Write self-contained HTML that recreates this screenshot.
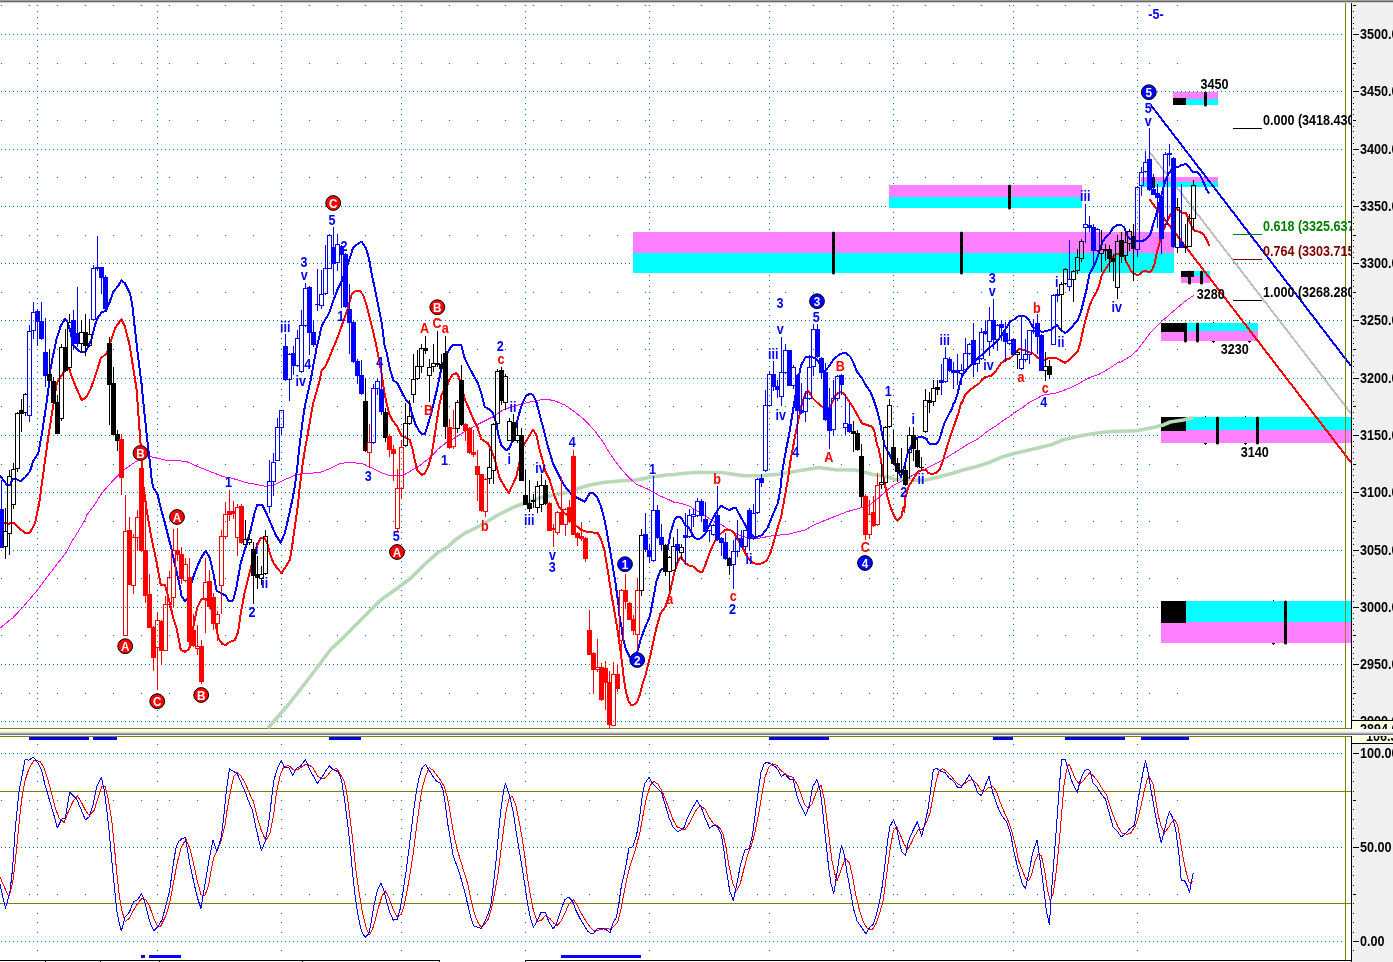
<!DOCTYPE html>
<html><head><meta charset="utf-8"><title>Chart</title>
<style>
html,body{margin:0;padding:0;background:#fff;}
body{width:1393px;height:962px;overflow:hidden;font-family:"Liberation Sans",sans-serif;}
svg{display:block;}
svg text{font-family:"Liberation Sans",sans-serif;font-weight:bold;}
</style></head><body>
<svg width="1393" height="962" viewBox="0 0 1393 962" shape-rendering="crispEdges">
<rect x="0" y="0" width="1393" height="962" fill="#fff"/>
<defs><path id="vd" d="M0 5h1v1h-1zM0 11h1v1h-1zM0 17h1v1h-1zM0 23h1v1h-1zM0 28h1v1h-1zM0 34h1v1h-1zM0 40h1v1h-1zM0 46h1v1h-1zM0 51h1v1h-1zM0 57h1v1h-1zM0 63h1v1h-1zM0 68h1v1h-1zM0 74h1v1h-1zM0 80h1v1h-1zM0 86h1v1h-1zM0 91h1v1h-1zM0 97h1v1h-1zM0 103h1v1h-1zM0 109h1v1h-1zM0 114h1v1h-1zM0 120h1v1h-1zM0 126h1v1h-1zM0 131h1v1h-1zM0 137h1v1h-1zM0 143h1v1h-1zM0 149h1v1h-1zM0 154h1v1h-1zM0 160h1v1h-1zM0 166h1v1h-1zM0 172h1v1h-1zM0 177h1v1h-1zM0 183h1v1h-1zM0 189h1v1h-1zM0 194h1v1h-1zM0 200h1v1h-1zM0 206h1v1h-1zM0 212h1v1h-1zM0 217h1v1h-1zM0 223h1v1h-1zM0 229h1v1h-1zM0 235h1v1h-1zM0 240h1v1h-1zM0 246h1v1h-1zM0 252h1v1h-1zM0 257h1v1h-1zM0 263h1v1h-1zM0 269h1v1h-1zM0 275h1v1h-1zM0 280h1v1h-1zM0 286h1v1h-1zM0 292h1v1h-1zM0 298h1v1h-1zM0 303h1v1h-1zM0 309h1v1h-1zM0 315h1v1h-1zM0 320h1v1h-1zM0 326h1v1h-1zM0 332h1v1h-1zM0 338h1v1h-1zM0 343h1v1h-1zM0 349h1v1h-1zM0 355h1v1h-1zM0 361h1v1h-1zM0 366h1v1h-1zM0 372h1v1h-1zM0 378h1v1h-1zM0 383h1v1h-1zM0 389h1v1h-1zM0 395h1v1h-1zM0 401h1v1h-1zM0 406h1v1h-1zM0 412h1v1h-1zM0 418h1v1h-1zM0 424h1v1h-1zM0 429h1v1h-1zM0 435h1v1h-1zM0 441h1v1h-1zM0 446h1v1h-1zM0 452h1v1h-1zM0 458h1v1h-1zM0 464h1v1h-1zM0 469h1v1h-1zM0 475h1v1h-1zM0 481h1v1h-1zM0 487h1v1h-1zM0 492h1v1h-1zM0 498h1v1h-1zM0 504h1v1h-1zM0 509h1v1h-1zM0 515h1v1h-1zM0 521h1v1h-1zM0 527h1v1h-1zM0 532h1v1h-1zM0 538h1v1h-1zM0 544h1v1h-1zM0 550h1v1h-1zM0 555h1v1h-1zM0 561h1v1h-1zM0 567h1v1h-1zM0 572h1v1h-1zM0 578h1v1h-1zM0 584h1v1h-1zM0 590h1v1h-1zM0 595h1v1h-1zM0 601h1v1h-1zM0 607h1v1h-1zM0 613h1v1h-1zM0 618h1v1h-1zM0 624h1v1h-1zM0 630h1v1h-1zM0 635h1v1h-1zM0 641h1v1h-1zM0 647h1v1h-1zM0 653h1v1h-1zM0 658h1v1h-1zM0 664h1v1h-1zM0 670h1v1h-1zM0 676h1v1h-1zM0 681h1v1h-1zM0 687h1v1h-1zM0 693h1v1h-1zM0 698h1v1h-1zM0 704h1v1h-1zM0 710h1v1h-1zM0 716h1v1h-1zM0 721h1v1h-1zM0 744h1v1h-1zM0 753h1v1h-1zM0 762h1v1h-1zM0 772h1v1h-1zM0 781h1v1h-1zM0 791h1v1h-1zM0 800h1v1h-1zM0 809h1v1h-1zM0 819h1v1h-1zM0 828h1v1h-1zM0 838h1v1h-1zM0 847h1v1h-1zM0 856h1v1h-1zM0 866h1v1h-1zM0 875h1v1h-1zM0 885h1v1h-1zM0 894h1v1h-1zM0 903h1v1h-1zM0 913h1v1h-1zM0 922h1v1h-1zM0 932h1v1h-1zM0 941h1v1h-1zM0 950h1v1h-1z" fill="#008080"/></defs>
<g stroke="#008080" stroke-width="1" fill="none"><path d="M1 721.5H1345" stroke-dasharray="1 3"/><path d="M1 664.5H1345" stroke-dasharray="1 3"/><path d="M1 607.5H1345" stroke-dasharray="1 3"/><path d="M1 550.5H1345" stroke-dasharray="1 3"/><path d="M1 492.5H1345" stroke-dasharray="1 3"/><path d="M1 435.5H1345" stroke-dasharray="1 3"/><path d="M1 378.5H1345" stroke-dasharray="1 3"/><path d="M1 320.5H1345" stroke-dasharray="1 3"/><path d="M1 263.5H1345" stroke-dasharray="1 3"/><path d="M1 206.5H1345" stroke-dasharray="1 3"/><path d="M1 149.5H1345" stroke-dasharray="1 3"/><path d="M1 91.5H1345" stroke-dasharray="1 3"/><path d="M1 34.5H1345" stroke-dasharray="1 3"/><path d="M1 693.5H1180" stroke-dasharray="1 27"/><path d="M1 635.5H1180" stroke-dasharray="1 27"/><path d="M1 578.5H1180" stroke-dasharray="1 27"/><path d="M1 521.5H1180" stroke-dasharray="1 27"/><path d="M1 464.5H1180" stroke-dasharray="1 27"/><path d="M1 406.5H1180" stroke-dasharray="1 27"/><path d="M1 349.5H1180" stroke-dasharray="1 27"/><path d="M1 292.5H1180" stroke-dasharray="1 27"/><path d="M1 235.5H1180" stroke-dasharray="1 27"/><path d="M1 177.5H1180" stroke-dasharray="1 27"/><path d="M1 120.5H1180" stroke-dasharray="1 27"/><path d="M1 63.5H1180" stroke-dasharray="1 27"/><path d="M1 5.5H1180" stroke-dasharray="1 27"/><path d="M1 941.5H1345" stroke-dasharray="1 3"/><path d="M1 847.5H1345" stroke-dasharray="1 3"/><path d="M1 753.5H1345" stroke-dasharray="1 3"/><path d="M1 894.5H1180" stroke-dasharray="1 27"/><path d="M1 800.5H1180" stroke-dasharray="1 27"/><use href="#vd" x="37" y="0" stroke="none"/><use href="#vd" x="157" y="0" stroke="none"/><use href="#vd" x="281" y="0" stroke="none"/><use href="#vd" x="401" y="0" stroke="none"/><use href="#vd" x="525" y="0" stroke="none"/><use href="#vd" x="649" y="0" stroke="none"/><use href="#vd" x="769" y="0" stroke="none"/><use href="#vd" x="893" y="0" stroke="none"/><use href="#vd" x="1013" y="0" stroke="none"/><use href="#vd" x="1137" y="0" stroke="none"/></g>
<g fill="#808000"><rect x="1345" y="3" width="1" height="957"/><rect x="0" y="728" width="1351" height="1"/><rect x="0" y="736" width="1351" height="1"/><rect x="0" y="791" width="1351" height="1"/><rect x="0" y="903" width="1351" height="1"/></g>
<rect x="889" y="185" width="193" height="12" fill="#ff80ff"/><rect x="889" y="197" width="193" height="11" fill="#00ffff"/><rect x="633" y="232" width="541" height="21" fill="#ff80ff"/><rect x="633" y="253" width="541" height="20" fill="#00ffff"/><rect x="1173" y="92" width="45" height="7" fill="#ff80ff"/><rect x="1173" y="99" width="45" height="6" fill="#00ffff"/><rect x="1141" y="177" width="77" height="5" fill="#ff80ff"/><rect x="1141" y="182" width="77" height="5" fill="#00ffff"/><rect x="1181" y="271" width="29" height="5" fill="#00ffff"/><rect x="1181" y="276" width="29" height="7" fill="#ff80ff"/><rect x="1161" y="323" width="97" height="8" fill="#00ffff"/><rect x="1161" y="331" width="97" height="10" fill="#ff80ff"/><rect x="1161" y="417" width="190" height="13" fill="#00ffff"/><rect x="1161" y="430" width="190" height="13" fill="#ff80ff"/><rect x="1161" y="601" width="190" height="21" fill="#00ffff"/><rect x="1161" y="622" width="190" height="21" fill="#ff80ff"/><rect x="1152" y="177" width="3" height="11" fill="#000"/><rect x="1173" y="98" width="13" height="7" fill="#000"/><rect x="1181" y="271" width="13" height="6" fill="#000"/><rect x="1161" y="323" width="26" height="9" fill="#000"/><rect x="1161" y="417" width="25" height="14" fill="#000"/><rect x="1161" y="601" width="25" height="22" fill="#000"/>
<polyline points="268.0,728.0 289.0,704.0 310.0,677.0 331.0,649.0 340.7,640.2 350.7,630.0 365.7,615.0 380.7,600.0 397.3,588.3 410.7,578.3 424.0,565.0 439.0,551.7 448.0,546.7 456.2,539.2 464.7,533.3 481.3,525.0 498.0,515.0 514.7,506.7 528.0,501.7 541.3,497.5 554.7,495.0 569.7,491.7 581.3,487.5 589.7,485.0 603.0,482.5 621.3,480.8 636.3,480.0 653.0,476.7 668.0,474.7 672.0,474.7 680.2,473.7 693.7,472.5 722.0,472.5 743.7,475.8 760.3,475.8 778.7,474.2 798.7,470.8 818.7,467.5 835.3,469.7 855.3,470.0 872.0,474.2 887.0,476.7 896.0,479.7 904.2,479.2 912.7,480.3 926.0,480.0 939.3,476.7 952.7,473.3 962.7,470.0 976.0,466.7 989.3,462.5 1002.7,456.7 1016.0,453.0 1029.3,450.0 1042.7,446.7 1052.7,444.2 1062.7,440.0 1076.0,436.7 1089.3,434.2 1102.7,432.2 1116.0,431.3 1120.0,431.3 1128.2,431.0 1136.7,430.8 1153.3,427.5 1163.3,425.0 1170.0,422.0 1183.3,420.0 1193.3,417.5" fill="none" stroke="#b8d8b8" stroke-width="3.6" stroke-linejoin="round" shape-rendering="auto"/>
<polyline points="0.0,628.3 11.7,618.3 12.5,618.3 22.5,607.5 37.5,590.0 50.0,573.3 66.7,551.7 72.5,540.2 75.0,536.7 85.0,520.0 86.7,515.0 93.3,506.7 101.7,493.3 110.8,483.0 113.3,480.0 124.2,469.5 138.3,460.0 149.2,456.3 165.0,460.0 185.8,461.3 200.0,467.5 223.3,476.7 232.2,478.3 245.7,482.5 265.7,486.3 274.0,485.0 284.0,480.0 295.7,475.0 304.0,473.3 319.0,472.8 330.7,468.3 340.7,463.3 350.7,462.5 362.3,463.7 370.7,467.5 380.7,472.5 389.0,475.3 397.3,475.8 404.0,475.0 412.3,470.0 420.7,465.0 430.7,456.7 439.0,448.3 447.3,441.7 451.3,440.0 464.7,431.7 478.0,424.2 493.0,416.7 503.0,410.0 514.7,405.8 528.0,402.5 538.0,400.3 546.3,399.2 554.7,400.8 564.7,405.0 574.7,411.7 584.7,420.0 594.7,430.8 603.0,441.7 609.7,453.3 618.0,465.0 628.0,476.7 636.3,484.2 648.0,489.2 659.7,495.8 671.3,500.8 672.0,501.7 680.2,503.3 688.7,505.8 697.0,510.8 705.3,515.8 713.7,521.7 722.0,525.0 730.3,530.8 738.7,535.0 747.0,537.5 758.7,538.3 772.0,535.8 788.7,534.2 805.3,530.0 813.7,525.0 830.3,518.3 847.0,511.7 862.0,507.5 869.5,505.0 877.0,499.2 885.3,491.7 893.7,485.0 896.0,484.2 904.2,480.0 906.0,479.2 917.7,472.5 929.3,466.7 942.7,460.0 956.0,451.7 969.3,443.3 976.0,440.2 982.7,435.0 989.3,430.0 996.0,425.8 1002.7,420.8 1009.3,416.7 1016.0,411.7 1022.7,407.5 1029.3,402.5 1042.7,395.3 1056.0,393.0 1069.3,388.3 1079.3,383.3 1089.3,377.5 1099.3,374.2 1109.3,368.3 1119.3,361.7 1120.0,362.5 1128.2,357.5 1130.0,356.7 1137.5,350.0 1150.0,333.3 1163.3,320.0 1176.7,308.3 1186.7,300.0 1194.2,295.0" fill="none" stroke="#ff00ff" stroke-width="1" stroke-linejoin="round" />
<clipPath id="ct"><rect x="0" y="0" width="1351" height="728"/></clipPath><g clip-path="url(#ct)">
<line x1="1150.8" y1="105" x2="1351" y2="366" stroke="#0000ff" stroke-width="2"/>
<line x1="1150" y1="152.5" x2="1351" y2="413.5" stroke="#c0c0c0" stroke-width="2"/>
<line x1="1149.5" y1="199.5" x2="1351" y2="462.5" stroke="#ff0000" stroke-width="2"/>
</g>
<polyline points="3.3,522.5 8.3,523.7 14.2,522.8 18.3,527.5 25.0,532.8 30.0,532.5 35.0,523.3 39.2,503.3 43.3,473.3 48.3,436.7 53.3,405.0 56.7,383.3 61.7,375.0 65.8,369.2 69.2,368.3 71.7,376.7 75.8,386.7 81.7,400.3 86.7,396.7 90.0,390.2 90.8,388.3 95.0,376.7 100.8,358.3 106.7,353.3 110.0,343.3 115.0,328.3 121.3,319.2 125.0,326.7 129.2,343.3 133.3,368.3 136.7,390.2 138.3,413.3 140.8,446.7 142.5,480.0 146.7,510.0 150.8,535.0 155.8,558.3 160.8,585.0 165.0,585.3 168.3,596.7 173.3,618.3 176.7,628.3 180.8,650.0 185.0,651.7 189.2,649.2 193.3,626.7 197.5,606.7 201.7,598.8 205.8,598.8 210.0,604.2 215.0,621.7 218.3,638.3 222.5,644.2 225.8,645.0 230.0,641.7 232.2,641.3 234.8,640.2 238.2,631.7 240.7,613.3 244.8,591.7 249.0,575.0 253.2,558.3 257.3,545.0 260.7,538.3 264.0,537.5 267.3,543.3 269.8,553.3 273.2,562.5 277.3,568.3 281.5,573.3 285.7,566.7 289.8,560.0 292.3,545.0 294.8,526.7 297.3,510.0 299.8,486.7 302.3,466.7 304.8,450.0 307.3,436.7 310.7,416.7 313.2,403.3 316.5,391.7 319.8,380.0 321.5,370.8 325.7,365.8 329.0,358.3 332.3,350.0 337.3,338.3 343.2,321.7 348.2,306.7 351.5,295.0 354.0,291.7 359.8,290.8 363.2,295.0 366.5,305.0 369.8,318.3 373.2,331.7 376.5,346.7 378.2,355.0 381.5,373.3 384.0,390.0 386.5,403.3 389.0,413.3 392.3,420.0 397.3,426.7 401.5,435.8 405.7,437.5 409.8,440.0 412.3,448.3 414.8,460.0 417.3,470.0 421.5,475.0 424.8,473.3 428.2,466.7 431.5,455.0 434.0,440.0 436.5,423.3 439.0,406.7 441.5,395.0 445.7,388.3 448.0,384.2 449.0,380.0 451.3,376.7 452.3,375.0 454.7,373.7 456.2,373.3 458.0,375.0 461.3,385.0 464.7,399.2 468.8,408.3 473.0,418.3 477.2,426.7 481.3,439.2 488.0,443.3 491.3,450.0 495.5,461.7 499.7,478.3 504.7,486.7 508.8,493.0 516.3,476.7 520.5,458.3 523.8,445.0 528.8,436.7 533.0,429.7 536.3,435.0 539.7,450.0 543.0,461.7 545.5,471.7 549.7,480.0 554.7,496.7 558.8,506.7 563.8,512.5 568.0,515.8 572.2,521.7 576.3,525.8 581.3,530.0 586.3,531.7 593.0,532.5 598.0,533.3 601.3,540.0 604.7,551.7 608.0,571.7 611.3,593.3 614.7,613.3 618.0,633.3 621.3,656.7 623.8,678.3 626.3,693.3 628.8,701.7 631.3,705.0 633.8,704.7 637.2,701.7 639.7,695.0 642.2,685.0 645.5,675.0 649.7,658.3 653.0,643.3 656.3,628.3 660.5,613.3 665.5,606.7 668.8,596.7 672.0,583.3 674.5,571.7 676.3,566.7 677.8,561.7 680.2,557.5 681.2,556.7 685.3,563.3 689.5,565.8 693.7,566.7 697.8,570.8 702.0,572.5 705.3,565.0 709.5,553.3 713.7,543.3 717.8,536.7 722.0,532.5 725.3,530.0 730.3,530.0 734.5,533.3 737.8,540.0 742.0,546.7 746.2,555.0 750.3,560.8 753.7,563.3 757.8,564.2 762.8,563.0 767.0,560.0 770.3,553.3 773.7,541.7 777.0,530.0 781.2,516.7 784.5,498.3 787.8,480.0 790.3,461.7 792.8,448.3 795.3,435.0 798.7,418.3 802.0,403.3 805.3,393.3 808.7,391.2 812.8,398.3 817.0,402.5 821.2,405.8 825.3,409.2 829.5,407.5 832.8,401.7 836.2,394.2 840.3,391.7 844.5,394.2 848.7,400.8 853.7,408.3 857.8,415.8 862.0,423.3 867.0,425.0 872.0,426.7 874.5,431.7 877.0,445.0 878.7,448.3 881.2,461.7 883.7,478.3 887.0,495.0 890.3,506.7 893.7,515.0 896.0,519.2 897.8,520.3 899.3,518.3 901.2,517.5 903.5,506.7 904.2,511.7 905.2,498.3 908.5,486.7 912.7,480.0 917.7,471.7 922.7,470.0 926.0,470.0 928.5,473.3 931.8,473.8 936.0,473.3 939.3,470.0 942.7,461.7 946.0,450.0 950.2,436.7 954.3,425.0 957.7,415.0 958.5,413.3 961.0,403.3 961.8,403.3 965.2,395.0 969.3,390.8 974.3,386.7 979.3,383.3 984.3,377.5 991.0,375.8 996.0,370.8 1001.0,363.3 1005.2,360.0 1010.2,358.3 1014.3,354.2 1018.5,349.2 1022.7,349.7 1027.7,351.7 1032.7,353.3 1037.7,357.5 1042.7,361.3 1047.7,358.3 1052.7,357.8 1056.8,358.3 1061.0,360.8 1065.2,362.8 1069.3,360.0 1073.5,355.8 1077.7,351.7 1080.2,343.3 1082.7,331.7 1086.0,318.3 1089.3,306.7 1092.7,298.3 1096.8,291.7 1100.2,281.7 1101.8,275.0 1106.0,268.3 1109.3,263.3 1112.7,256.7 1116.0,254.5 1120.2,254.2 1124.3,256.7 1126.0,261.7 1128.2,265.0 1131.0,270.8 1134.3,273.8 1137.7,275.4 1141.0,272.9 1144.3,270.8 1147.7,271.7 1150.2,271.7 1152.7,268.8 1154.8,263.3 1156.4,254.2 1158.5,246.7 1160.2,240.0 1161.8,233.3 1163.9,229.2 1165.2,225.8 1167.7,220.8 1169.3,216.7 1171.4,213.3 1176.0,208.3 1179.3,210.8 1181.8,212.5 1185.6,212.9 1187.7,216.7 1189.3,220.8 1191.0,225.0 1192.7,228.8 1195.2,231.2 1199.3,231.7 1202.7,233.8 1205.2,236.7 1207.2,240.8 1209.3,245.8" fill="none" stroke="#ff0000" stroke-width="2" stroke-linejoin="round" />
<polyline points="0.0,475.8 6.7,484.7 10.0,485.0 12.5,479.2 16.7,479.5 20.8,481.2 25.0,477.5 30.0,471.3 33.3,460.8 38.3,453.3 41.7,435.0 45.0,413.3 48.3,390.0 50.0,371.7 52.5,358.3 56.7,338.3 60.8,325.8 65.0,318.8 67.5,321.7 70.0,330.0 73.3,345.0 77.5,350.0 81.7,352.5 85.0,352.2 88.3,346.7 91.7,338.3 95.0,325.0 98.3,316.7 102.5,311.7 105.8,311.3 109.2,303.3 113.3,291.7 118.3,285.8 121.3,280.3 125.0,283.3 130.0,293.3 132.5,306.7 135.0,330.0 138.3,358.3 141.7,385.0 143.3,401.7 146.7,435.0 150.0,463.3 151.7,480.0 153.3,487.5 157.5,494.2 160.8,508.3 165.0,523.3 168.3,536.7 171.7,550.0 175.0,565.0 179.2,583.3 181.7,596.7 185.0,600.8 187.5,598.3 191.7,581.7 195.8,570.0 200.8,558.3 205.8,550.8 210.0,558.3 213.3,573.3 216.7,590.8 221.7,593.3 225.8,595.8 228.2,600.3 229.2,600.8 232.2,601.2 233.2,600.3 236.5,586.7 240.7,563.3 245.7,546.7 250.7,530.0 254.8,511.7 257.3,505.0 262.3,505.0 265.7,511.7 270.7,523.3 275.7,535.0 280.7,542.5 284.8,533.3 289.0,515.0 292.3,500.0 294.8,486.7 297.3,466.7 299.8,443.3 302.3,423.3 304.8,406.7 307.3,395.0 310.7,380.0 314.0,361.7 316.5,348.3 319.0,338.3 321.5,326.7 324.0,321.7 329.0,313.3 333.2,300.8 337.3,290.0 342.3,280.0 346.5,268.3 349.8,258.3 353.2,247.5 357.3,244.2 361.5,241.7 365.7,247.5 369.0,258.3 371.5,273.3 374.8,288.3 378.2,305.0 381.5,321.7 384.8,346.7 386.5,351.7 389.8,368.3 393.2,380.0 397.3,383.3 401.5,391.7 405.7,399.2 409.8,404.2 412.3,415.0 415.7,425.0 419.0,430.8 422.3,434.5 424.8,434.2 427.3,426.7 430.7,415.0 434.0,401.7 437.3,388.3 440.7,371.7 444.0,360.0 447.3,351.7 448.0,351.7 450.7,347.5 453.0,345.3 456.2,345.0 461.3,345.3 464.7,358.3 469.7,368.3 473.8,375.8 478.0,383.3 481.3,393.3 484.7,406.7 488.8,409.2 493.0,413.3 496.3,423.3 498.8,436.7 501.3,445.0 505.5,450.0 508.8,449.2 512.2,441.7 516.3,425.0 519.7,411.7 523.0,401.7 526.3,395.8 529.7,393.7 533.0,395.0 536.3,401.7 539.7,415.0 543.8,430.0 548.0,446.7 553.0,463.3 558.0,473.3 563.0,483.3 567.2,489.2 572.2,495.0 579.7,499.2 584.7,501.7 589.7,493.3 593.0,493.3 597.2,497.5 600.5,505.0 603.8,516.7 606.3,528.3 608.8,543.3 612.2,563.3 615.5,583.3 618.8,606.7 619.7,618.3 621.3,625.0 623.0,638.3 625.5,648.3 629.7,656.7 633.0,660.0 638.0,650.0 640.5,640.0 644.7,628.3 649.7,616.7 653.0,600.0 656.3,581.7 660.5,570.0 664.7,568.3 668.0,546.7 670.5,533.3 672.0,528.3 673.8,521.7 675.3,518.3 677.2,517.0 678.7,516.7 680.2,516.7 682.0,519.2 685.3,525.0 688.7,527.5 691.2,531.7 693.7,536.7 697.0,539.2 701.2,538.3 705.3,533.3 709.5,525.0 713.7,516.7 717.8,510.0 721.2,505.8 725.3,508.3 729.5,510.0 733.7,508.0 736.2,508.3 738.7,513.3 742.0,519.2 745.3,525.0 749.5,533.3 753.7,536.7 757.8,536.7 762.0,535.0 767.8,527.5 772.0,516.7 777.8,503.3 780.3,490.0 782.0,473.3 784.5,458.3 787.0,445.0 788.7,436.7 792.0,416.7 795.3,396.7 798.7,376.7 801.2,365.0 805.3,357.5 810.3,356.7 815.3,358.3 818.7,361.7 822.0,368.3 824.5,371.7 828.7,366.7 833.7,359.2 838.7,355.0 842.8,353.0 846.2,353.0 850.3,356.7 853.7,363.3 857.0,371.7 862.0,378.3 866.2,385.8 870.3,391.7 873.7,400.0 877.0,410.0 879.5,420.0 882.0,433.3 884.5,445.0 901.0,476.7 904.3,466.7 907.7,453.3 911.0,446.7 914.3,440.0 917.7,437.5 922.7,437.2 924.3,438.0 926.8,439.2 927.7,441.7 930.2,443.8 936.8,443.8 939.3,440.0 941.8,431.7 944.3,423.3 945.2,421.7 947.7,416.7 949.3,413.3 951.8,409.2 953.5,403.3 954.3,403.3 957.7,393.3 960.2,381.7 962.7,375.0 967.7,368.3 972.7,363.3 977.7,358.3 982.7,354.2 986.8,350.0 991.8,345.8 996.8,341.7 1001.8,335.0 1006.0,328.3 1010.2,321.7 1014.3,319.2 1018.5,316.3 1022.7,315.8 1026.0,316.7 1029.3,320.8 1032.7,326.7 1037.7,330.0 1041.8,332.0 1046.8,330.8 1051.8,329.2 1056.8,325.0 1061.0,330.0 1065.2,333.0 1069.3,330.0 1073.5,325.0 1077.7,320.0 1081.0,311.7 1084.3,298.3 1086.8,288.3 1089.3,274.2 1092.7,268.3 1096.0,261.7 1099.3,251.7 1102.7,241.7 1106.0,236.7 1109.3,234.2 1112.7,228.3 1116.8,225.0 1121.0,224.7 1124.3,227.5 1126.0,232.5 1127.7,236.7 1130.2,239.2 1133.5,240.0 1137.7,241.0 1142.7,240.8 1146.0,239.2 1149.3,235.8 1151.0,232.5 1152.7,225.8 1154.3,220.8 1156.0,215.0 1157.7,209.2 1159.3,203.3 1161.0,196.7 1162.7,190.0 1164.3,184.2 1166.0,179.2 1168.5,174.2 1171.0,170.0 1173.5,166.7 1176.0,166.7 1179.3,166.5 1181.4,164.6 1186.4,164.4 1189.3,167.5 1192.7,171.7 1196.8,172.1 1199.3,174.2 1201.8,178.3 1204.3,184.2 1206.8,190.0 1209.3,193.3" fill="none" stroke="#0000ff" stroke-width="2" stroke-linejoin="round" />
<path fill="#0000ff" d="M1 480h1v68h-1zM-1 509h5v39h-5z"/>
<path fill="#000000" d="M5 508h1v23h-1zM5 547h1v12h-1zM3 531h5v16h-5zM4 532v14h3v-14zM9 470h1v6h-1zM9 534h1v21h-1zM7 476h5v58h-5zM8 477v56h3v-56zM13 463h1v6h-1zM13 505h1v4h-1zM11 469h5v36h-5zM12 470v34h3v-34zM17 412h1v1h-1zM17 469h1v3h-1zM15 413h5v56h-5zM16 414v54h3v-54zM21 399h1v33h-1zM19 410h5v4h-5zM25 393h1v1h-1zM25 413h1v3h-1zM23 394h5v19h-5zM24 395v17h3v-17z"/>
<path fill="#0000ff" d="M29 325h1v6h-1zM29 416h1v6h-1zM27 331h5v85h-5zM28 332v83h3v-83zM33 302h1v10h-1zM33 331h1v8h-1zM31 312h5v19h-5zM32 313v17h3v-17zM37 309h1v37h-1zM35 311h5v11h-5zM41 302h1v38h-1zM39 321h5v18h-5zM45 318h1v69h-1zM43 352h5v24h-5z"/>
<path fill="#000000" d="M49 349h1v35h-1zM47 374h5v7h-5zM53 377h1v27h-1zM51 381h5v22h-5zM57 395h1v39h-1zM55 402h5v32h-5zM61 344h1v3h-1zM61 419h1v2h-1zM59 347h5v72h-5zM60 348v70h3v-70zM65 329h1v43h-1zM63 347h5v24h-5zM69 314h1v8h-1zM69 368h1v1h-1zM67 322h5v46h-5zM68 323v44h3v-44z"/>
<path fill="#0000ff" d="M73 310h1v40h-1zM71 320h5v24h-5zM77 287h1v60h-1zM75 333h5v11h-5z"/>
<path fill="#000000" d="M81 320h1v12h-1zM81 344h1v8h-1zM79 332h5v12h-5zM80 333v10h3v-10zM85 314h1v42h-1zM83 332h5v14h-5zM89 319h1v15h-1zM89 346h1v1h-1zM87 334h5v12h-5zM88 335v10h3v-10z"/>
<path fill="#0000ff" d="M93 265h1v3h-1zM93 320h1v1h-1zM91 268h5v52h-5zM92 269v50h3v-50zM97 236h1v35h-1zM95 267h5v2h-5zM101 267h1v27h-1zM99 267h5v11h-5zM105 275h1v37h-1zM103 277h5v32h-5z"/>
<path fill="#000000" d="M109 337h1v88h-1zM107 343h5v42h-5zM113 367h1v68h-1zM111 383h5v52h-5zM117 430h1v21h-1zM115 434h5v7h-5z"/>
<path fill="#ff0000" d="M121 434h1v61h-1zM119 439h5v39h-5zM125 495h1v36h-1zM123 531h5v105h-5zM124 532v103h3v-103zM129 517h1v68h-1zM127 530h5v55h-5zM133 534h1v3h-1zM133 586h1v8h-1zM131 537h5v49h-5zM132 538v47h3v-47zM137 510h1v7h-1zM137 538h1v13h-1zM135 517h5v21h-5zM136 518v19h3v-19zM141 461h1v91h-1zM139 468h5v83h-5zM145 494h1v109h-1zM143 550h5v46h-5zM149 574h1v54h-1zM147 594h5v34h-5zM153 626h1v45h-1zM151 627h5v31h-5zM157 612h1v8h-1zM157 648h1v42h-1zM155 620h5v28h-5zM156 621v26h3v-26zM161 620h1v45h-1zM159 621h5v30h-5zM165 596h1v8h-1zM163 604h5v47h-5zM164 605v45h3v-45zM169 571h1v6h-1zM169 605h1v2h-1zM167 577h5v28h-5zM168 578v26h3v-26zM173 529h1v21h-1zM173 598h1v9h-1zM171 550h5v48h-5zM172 551v46h3v-46zM177 528h1v33h-1zM175 550h5v5h-5zM181 547h1v37h-1zM179 554h5v25h-5zM185 558h1v6h-1zM185 581h1v1h-1zM183 564h5v17h-5zM184 565v15h3v-15zM189 558h1v85h-1zM187 577h5v65h-5zM193 614h1v33h-1zM191 630h5v16h-5zM197 625h1v21h-1zM197 649h1v6h-1zM195 646h5v3h-5zM196 647v1h3v-1zM201 640h1v44h-1zM199 646h5v36h-5zM205 558h1v24h-1zM205 600h1v33h-1zM203 582h5v18h-5zM204 583v16h3v-16zM209 570h1v39h-1zM207 581h5v26h-5zM213 593h1v37h-1zM211 597h5v27h-5zM217 611h1v3h-1zM217 624h1v17h-1zM215 614h5v10h-5zM216 615v8h3v-8zM221 530h1v6h-1zM221 586h1v28h-1zM219 536h5v50h-5zM220 537v48h3v-48zM225 502h1v12h-1zM225 537h1v2h-1zM223 514h5v23h-5zM224 515v21h3v-21zM229 490h1v31h-1zM227 511h5v4h-5zM233 501h1v18h-1zM231 511h5v3h-5zM237 504h1v3h-1zM237 538h1v18h-1zM235 507h5v31h-5zM236 508v29h3v-29zM241 504h1v40h-1zM239 506h5v37h-5z"/>
<path fill="#000000" d="M245 520h1v19h-1zM243 539h5v6h-5zM244 540v4h3v-4zM249 531h1v8h-1zM249 543h1v2h-1zM247 539h5v4h-5zM248 540v2h3v-2zM253 542h1v62h-1zM251 549h5v27h-5zM257 556h1v33h-1zM255 574h5v4h-5zM261 566h1v8h-1zM261 579h1v6h-1zM259 574h5v5h-5zM260 575v3h3v-3zM265 530h1v6h-1zM265 574h1v1h-1zM263 536h5v38h-5zM264 537v36h3v-36z"/>
<path fill="#0000ff" d="M269 460h1v21h-1zM269 507h1v6h-1zM267 481h5v26h-5zM268 482v24h3v-24zM273 453h1v9h-1zM273 482h1v14h-1zM271 462h5v20h-5zM272 463v18h3v-18zM277 418h1v9h-1zM275 427h5v34h-5zM276 428v32h3v-32zM281 428h1v7h-1zM279 410h5v18h-5zM280 411v16h3v-16zM285 334h1v47h-1zM283 346h5v34h-5zM289 353h1v1h-1zM289 380h1v21h-1zM287 354h5v26h-5zM288 355v24h3v-24zM293 346h1v29h-1zM291 353h5v13h-5zM297 330h1v8h-1zM297 366h1v1h-1zM295 338h5v28h-5zM296 339v26h3v-26zM301 310h1v15h-1zM301 372h1v1h-1zM299 325h5v47h-5zM300 326v45h3v-45zM305 283h1v5h-1zM305 326h1v1h-1zM303 288h5v38h-5zM304 289v36h3v-36zM309 286h1v69h-1zM307 287h5v46h-5zM313 320h1v27h-1zM311 332h5v13h-5zM317 269h1v42h-1zM315 304h5v1h-5zM321 270h1v24h-1zM321 306h1v3h-1zM319 294h5v12h-5zM320 295v10h3v-10zM325 245h1v23h-1zM325 294h1v1h-1zM323 268h5v26h-5zM324 269v24h3v-24zM329 234h1v1h-1zM327 235h5v34h-5zM328 236v32h3v-32zM333 227h1v68h-1zM331 247h5v17h-5zM337 234h1v10h-1zM337 263h1v8h-1zM335 244h5v19h-5zM336 245v17h3v-17zM341 245h1v63h-1zM339 246h5v9h-5zM345 253h1v55h-1zM343 254h5v53h-5zM349 284h1v70h-1zM347 309h5v14h-5zM353 321h1v42h-1zM351 322h5v40h-5zM357 359h1v25h-1zM355 361h5v15h-5zM361 360h1v35h-1zM359 375h5v19h-5z"/>
<path fill="#000000" d="M365 378h1v74h-1zM363 401h5v50h-5z"/>
<path fill="#ff0000" d="M369 424h1v18h-1zM369 453h1v15h-1zM367 442h5v11h-5zM368 443v9h3v-9z"/>
<path fill="#0000ff" d="M373 384h1v4h-1zM373 443h1v1h-1zM371 388h5v55h-5zM372 389v53h3v-53zM377 378h1v3h-1zM377 389h1v6h-1zM375 381h5v8h-5zM376 382v6h3v-6zM381 366h1v49h-1zM379 389h5v23h-5z"/>
<path fill="#000000" d="M385 408h1v34h-1zM383 412h5v26h-5z"/>
<path fill="#ff0000" d="M389 434h1v23h-1zM387 436h5v14h-5zM393 445h1v36h-1zM391 449h5v5h-5zM397 469h1v19h-1zM397 529h1v2h-1zM395 488h5v41h-5zM396 489v39h3v-39zM401 440h1v7h-1zM401 489h1v10h-1zM399 447h5v42h-5zM400 448v40h3v-40z"/>
<path fill="#000000" d="M405 403h1v20h-1zM405 446h1v1h-1zM403 423h5v23h-5zM404 424v21h3v-21zM409 400h1v16h-1zM409 424h1v1h-1zM407 416h5v8h-5zM408 417v6h3v-6zM413 354h1v25h-1zM413 395h1v8h-1zM411 379h5v16h-5zM412 380v14h3v-14zM417 350h1v16h-1zM417 379h1v1h-1zM415 366h5v13h-5zM416 367v11h3v-11zM421 344h1v4h-1zM421 367h1v6h-1zM419 348h5v19h-5zM420 349v17h3v-17zM425 336h1v18h-1zM423 348h5v3h-5zM429 359h1v8h-1zM429 376h1v26h-1zM427 367h5v9h-5zM428 368v7h3v-7zM433 344h1v19h-1zM433 367h1v5h-1zM431 363h5v4h-5zM432 364v2h3v-2zM437 331h1v36h-1zM435 363h5v2h-5zM441 354h1v17h-1zM439 364h5v5h-5zM445 336h1v103h-1zM443 353h5v74h-5z"/>
<path fill="#ff0000" d="M449 419h1v30h-1zM447 427h5v21h-5zM453 410h1v18h-1zM453 447h1v2h-1zM451 428h5v19h-5zM452 429v17h3v-17z"/>
<path fill="#000000" d="M457 400h1v2h-1zM457 429h1v4h-1zM455 402h5v27h-5zM456 403v25h3v-25zM461 365h1v61h-1zM459 380h5v45h-5z"/>
<path fill="#ff0000" d="M465 423h1v18h-1zM463 424h5v7h-5zM469 427h1v27h-1zM467 428h5v25h-5zM473 430h1v27h-1zM471 452h5v3h-5zM477 450h1v51h-1zM475 466h5v9h-5zM481 474h1v38h-1zM479 474h5v37h-5zM485 478h1v1h-1zM485 512h1v5h-1zM483 479h5v33h-5zM484 480v31h3v-31z"/>
<path fill="#000000" d="M489 449h1v18h-1zM489 479h1v5h-1zM487 467h5v12h-5zM488 468v10h3v-10zM493 423h1v1h-1zM493 471h1v13h-1zM491 424h5v47h-5zM492 425v45h3v-45zM497 369h1v2h-1zM497 424h1v1h-1zM495 371h5v53h-5zM496 372v51h3v-51zM501 367h1v38h-1zM499 370h5v31h-5zM505 374h1v2h-1zM505 403h1v7h-1zM503 376h5v27h-5zM504 377v25h3v-25zM509 418h1v3h-1zM507 421h5v20h-5zM508 422v18h3v-18zM513 414h1v28h-1zM511 422h5v19h-5zM517 423h1v12h-1zM517 441h1v2h-1zM515 435h5v6h-5zM516 436v4h3v-4zM521 428h1v53h-1zM519 435h5v46h-5zM525 470h1v35h-1zM523 495h5v10h-5zM529 480h1v32h-1zM527 503h5v6h-5zM533 494h1v14h-1zM531 500h5v2h-5zM537 481h1v5h-1zM537 508h1v5h-1zM535 486h5v22h-5zM536 487v20h3v-20zM541 474h1v11h-1zM541 505h1v7h-1zM539 485h5v20h-5zM540 486v18h3v-18zM545 480h1v25h-1zM543 485h5v19h-5z"/>
<path fill="#ff0000" d="M549 502h1v29h-1zM547 503h5v28h-5zM553 524h1v23h-1zM551 528h5v2h-5zM557 511h1v1h-1zM557 533h1v2h-1zM555 512h5v21h-5zM556 513v19h3v-19zM561 477h1v48h-1zM559 512h5v13h-5zM565 508h1v1h-1zM565 525h1v11h-1zM563 509h5v16h-5zM564 510v14h3v-14zM569 500h1v23h-1zM567 507h5v15h-5zM573 450h1v85h-1zM571 456h5v79h-5zM577 532h1v14h-1zM575 533h5v5h-5zM581 522h1v19h-1zM579 536h5v3h-5zM585 537h1v25h-1zM583 538h5v21h-5zM589 610h1v45h-1zM587 630h5v25h-5zM593 652h1v42h-1zM591 653h5v17h-5zM597 639h1v28h-1zM597 670h1v2h-1zM595 667h5v3h-5zM596 668v1h3v-1zM601 663h1v38h-1zM599 667h5v33h-5zM605 661h1v49h-1zM603 668h5v15h-5zM609 671h1v58h-1zM607 682h5v43h-5zM613 662h1v12h-1zM611 674h5v52h-5zM612 675v50h3v-50zM617 664h1v28h-1zM615 674h5v15h-5zM621 589h1v1h-1zM621 641h1v10h-1zM619 590h5v51h-5zM620 591v49h3v-49zM625 574h1v35h-1zM623 590h5v12h-5zM629 602h1v18h-1zM627 603h5v17h-5zM633 615h1v20h-1zM631 619h5v12h-5zM637 578h1v12h-1zM637 635h1v14h-1zM635 590h5v45h-5zM636 591v43h3v-43z"/>
<path fill="#000000" d="M641 529h1v6h-1zM641 591h1v5h-1zM639 535h5v56h-5zM640 536v54h3v-54z"/>
<path fill="#0000ff" d="M645 513h1v39h-1zM643 534h5v16h-5zM649 544h1v19h-1zM647 550h5v7h-5zM653 476h1v34h-1zM653 561h1v1h-1zM651 510h5v51h-5zM652 511v49h3v-49zM657 505h1v34h-1zM655 510h5v28h-5zM661 524h1v27h-1zM659 537h5v8h-5z"/>
<path fill="#000000" d="M665 544h1v32h-1zM663 545h5v27h-5zM669 556h1v1h-1zM669 572h1v19h-1zM667 557h5v15h-5zM668 558v13h3v-13zM673 537h1v9h-1zM671 546h5v25h-5zM672 547v23h3v-23z"/>
<path fill="#0000ff" d="M677 529h1v35h-1zM675 544h5v7h-5z"/>
<path fill="#000000" d="M681 544h1v3h-1zM681 553h1v7h-1zM679 547h5v6h-5zM680 548v4h3v-4z"/>
<path fill="#0000ff" d="M685 513h1v51h-1zM683 535h5v3h-5zM689 509h1v6h-1zM689 537h1v1h-1zM687 515h5v22h-5zM688 516v20h3v-20zM693 509h1v5h-1zM693 517h1v10h-1zM691 514h5v3h-5zM692 515v1h3v-1zM697 498h1v3h-1zM697 516h1v1h-1zM695 501h5v15h-5zM696 502v13h3v-13zM701 499h1v23h-1zM699 501h5v15h-5zM705 502h1v33h-1zM703 519h5v13h-5zM709 523h1v2h-1zM709 531h1v11h-1zM707 525h5v6h-5zM708 526v4h3v-4zM713 524h1v1h-1zM713 535h1v1h-1zM711 525h5v10h-5zM712 526v8h3v-8zM717 486h1v55h-1zM715 515h5v25h-5zM721 537h1v19h-1zM719 538h5v5h-5zM725 533h1v27h-1zM723 542h5v17h-5z"/>
<path fill="#000000" d="M729 557h1v18h-1zM727 558h5v8h-5z"/>
<path fill="#0000ff" d="M733 540h1v11h-1zM733 565h1v24h-1zM731 551h5v14h-5zM732 552v12h3v-12zM737 520h1v18h-1zM737 552h1v5h-1zM735 538h5v14h-5zM736 539v12h3v-12zM741 530h1v18h-1zM739 538h5v9h-5zM745 547h1v4h-1zM743 530h5v17h-5zM744 531v15h3v-15zM749 508h1v43h-1zM747 510h5v29h-5zM753 504h1v9h-1zM753 539h1v1h-1zM751 513h5v26h-5zM752 514v24h3v-24zM757 478h1v1h-1zM757 513h1v1h-1zM755 479h5v34h-5zM756 480v32h3v-32zM761 474h1v13h-1zM759 478h5v5h-5zM765 390h1v15h-1zM765 471h1v1h-1zM763 405h5v66h-5zM764 406v64h3v-64zM769 371h1v3h-1zM767 374h5v32h-5zM768 375v30h3v-30zM773 361h1v30h-1zM771 374h5v13h-5zM777 380h1v18h-1zM775 386h5v4h-5zM781 337h1v35h-1zM781 397h1v9h-1zM779 372h5v25h-5zM780 373v23h3v-23zM785 344h1v6h-1zM785 373h1v1h-1zM783 350h5v23h-5zM784 351v21h3v-21zM789 350h1v36h-1zM787 350h5v36h-5zM793 365h1v2h-1zM793 386h1v3h-1zM791 367h5v19h-5zM792 368v17h3v-17zM797 374h1v75h-1zM795 375h5v36h-5zM801 383h1v31h-1zM799 410h5v3h-5zM805 391h1v7h-1zM805 412h1v10h-1zM803 398h5v14h-5zM804 399v12h3v-12zM809 355h1v12h-1zM809 399h1v1h-1zM807 367h5v32h-5zM808 368v30h3v-30zM813 324h1v5h-1zM813 367h1v9h-1zM811 329h5v38h-5zM812 330v36h3v-36zM817 324h1v34h-1zM815 329h5v28h-5zM821 357h1v22h-1zM819 358h5v15h-5zM825 363h1v58h-1zM823 372h5v48h-5zM829 388h1v61h-1zM827 408h5v23h-5zM833 380h1v18h-1zM833 430h1v6h-1zM831 398h5v32h-5zM832 399v30h3v-30zM837 375h1v1h-1zM837 399h1v2h-1zM835 376h5v23h-5zM836 377v21h3v-21zM841 374h1v21h-1zM839 375h5v10h-5zM845 394h1v29h-1zM845 428h1v7h-1zM843 423h5v5h-5zM844 424v3h3v-3zM849 403h1v30h-1zM847 424h5v8h-5z"/>
<path fill="#000000" d="M853 421h1v31h-1zM851 431h5v3h-5zM857 430h1v21h-1zM855 433h5v17h-5zM861 444h1v63h-1zM859 456h5v41h-5z"/>
<path fill="#ff0000" d="M865 494h1v46h-1zM863 496h5v39h-5zM869 500h1v14h-1zM869 535h1v4h-1zM867 514h5v21h-5zM868 515v19h3v-19zM873 496h1v31h-1zM871 512h5v14h-5zM877 473h1v12h-1zM877 525h1v1h-1zM875 485h5v40h-5zM876 486v38h3v-38z"/>
<path fill="#000000" d="M881 463h1v19h-1zM881 485h1v4h-1zM879 482h5v3h-5zM880 483v1h3v-1zM885 426h1v1h-1zM885 483h1v1h-1zM883 427h5v56h-5zM884 428v54h3v-54zM889 399h1v6h-1zM889 427h1v1h-1zM887 405h5v22h-5zM888 406v20h3v-20zM893 430h1v35h-1zM891 447h5v17h-5zM897 458h1v24h-1zM895 463h5v9h-5zM901 448h1v29h-1zM899 470h5v3h-5zM905 465h1v21h-1zM903 470h5v15h-5zM909 427h1v8h-1zM909 453h1v26h-1zM907 435h5v18h-5zM908 436v16h3v-16zM913 427h1v34h-1zM911 435h5v14h-5zM917 439h1v29h-1zM915 450h5v17h-5zM921 457h1v14h-1zM919 467h5v1h-5zM925 389h1v11h-1zM925 432h1v1h-1zM923 400h5v32h-5zM924 401v30h3v-30zM929 392h1v21h-1zM927 400h5v3h-5zM933 380h1v8h-1zM933 402h1v4h-1zM931 388h5v14h-5zM932 389v12h3v-12zM937 380h1v15h-1zM935 387h5v3h-5z"/>
<path fill="#0000ff" d="M941 364h1v31h-1zM939 380h5v3h-5zM945 347h1v11h-1zM945 382h1v1h-1zM943 358h5v24h-5zM944 359v22h3v-22zM949 357h1v15h-1zM947 359h5v12h-5zM953 362h1v27h-1zM951 370h5v3h-5zM957 354h1v31h-1zM955 370h5v3h-5zM961 364h1v6h-1zM961 374h1v11h-1zM959 370h5v4h-5zM960 371v2h3v-2zM965 338h1v15h-1zM965 370h1v1h-1zM963 353h5v17h-5zM964 354v15h3v-15zM969 343h1v1h-1zM969 354h1v1h-1zM967 344h5v10h-5zM968 345v8h3v-8zM973 323h1v54h-1zM971 340h5v25h-5zM977 358h1v1h-1zM977 364h1v8h-1zM975 359h5v5h-5zM976 360v3h3v-3zM981 328h1v4h-1zM981 359h1v1h-1zM979 332h5v27h-5zM980 333v25h3v-25zM985 320h1v15h-1zM983 331h5v3h-5zM989 307h1v13h-1zM989 342h1v14h-1zM987 320h5v22h-5zM988 321v20h3v-20zM993 299h1v50h-1zM991 320h5v20h-5zM997 324h1v1h-1zM997 340h1v11h-1zM995 325h5v15h-5zM996 326v13h3v-13zM1001 320h1v21h-1zM999 324h5v4h-5zM1005 322h1v40h-1zM1003 333h5v9h-5zM1009 320h1v20h-1zM1009 344h1v1h-1zM1007 340h5v4h-5zM1008 341v2h3v-2zM1013 338h1v18h-1zM1011 339h5v16h-5z"/>
<path fill="#000000" d="M1017 351h1v1h-1zM1017 355h1v14h-1zM1015 352h5v3h-5zM1016 353v1h3v-1z"/>
<path fill="#0000ff" d="M1021 315h1v44h-1zM1021 369h1v1h-1zM1019 359h5v10h-5zM1020 360v8h3v-8zM1025 339h1v15h-1zM1025 360h1v2h-1zM1023 354h5v6h-5zM1024 355v4h3v-4zM1029 355h1v9h-1zM1027 330h5v25h-5zM1028 331v23h3v-23zM1033 319h1v15h-1zM1031 330h5v2h-5zM1037 314h1v40h-1zM1035 323h5v14h-5zM1041 334h1v37h-1zM1039 335h5v36h-5z"/>
<path fill="#000000" d="M1045 352h1v14h-1zM1045 371h1v10h-1zM1043 366h5v5h-5zM1044 367v3h3v-3zM1049 360h1v19h-1zM1047 366h5v9h-5z"/>
<path fill="#0000ff" d="M1053 294h1v1h-1zM1051 295h5v50h-5zM1052 296v48h3v-48zM1057 289h1v13h-1zM1055 294h5v2h-5z"/>
<path fill="#000000" d="M1061 282h1v2h-1zM1061 295h1v37h-1zM1059 284h5v11h-5zM1060 285v9h3v-9zM1065 268h1v1h-1zM1065 284h1v1h-1zM1063 269h5v15h-5zM1064 270v13h3v-13z"/>
<path fill="#0000ff" d="M1069 240h1v39h-1zM1069 287h1v4h-1zM1067 279h5v8h-5zM1068 280v6h3v-6z"/>
<path fill="#000000" d="M1073 270h1v1h-1zM1073 280h1v22h-1zM1071 271h5v9h-5zM1072 272v7h3v-7zM1077 249h1v8h-1zM1077 271h1v3h-1zM1075 257h5v14h-5zM1076 258v12h3v-12zM1081 239h1v2h-1zM1081 259h1v3h-1zM1079 241h5v18h-5zM1080 242v16h3v-16z"/>
<path fill="#0000ff" d="M1085 204h1v20h-1zM1085 228h1v15h-1zM1083 224h5v4h-5zM1084 225v2h3v-2zM1089 216h1v16h-1zM1087 225h5v3h-5zM1093 224h1v41h-1zM1091 227h5v24h-5zM1097 228h1v1h-1zM1097 251h1v1h-1zM1095 229h5v22h-5zM1096 230v20h3v-20z"/>
<path fill="#000000" d="M1101 230h1v19h-1zM1101 254h1v18h-1zM1099 249h5v5h-5zM1100 250v3h3v-3zM1105 244h1v17h-1zM1103 249h5v2h-5zM1109 245h1v27h-1zM1107 249h5v10h-5zM1113 254h1v27h-1zM1111 258h5v4h-5zM1117 235h1v6h-1zM1117 288h1v11h-1zM1115 241h5v47h-5zM1116 242v45h3v-45zM1121 232h1v31h-1zM1119 240h5v17h-5zM1125 231h1v11h-1zM1125 256h1v5h-1zM1123 242h5v14h-5zM1124 243v12h3v-12zM1129 229h1v2h-1zM1129 244h1v7h-1zM1127 231h5v13h-5zM1128 232v11h3v-11zM1133 224h1v57h-1zM1131 236h5v13h-5z"/>
<path fill="#0000ff" d="M1137 186h1v1h-1zM1137 250h1v7h-1zM1135 187h5v63h-5zM1136 188v61h3v-61zM1141 167h1v5h-1zM1141 186h1v10h-1zM1139 172h5v14h-5zM1140 173v12h3v-12zM1145 151h1v11h-1zM1145 172h1v1h-1zM1143 162h5v10h-5zM1144 163v8h3v-8zM1149 128h1v63h-1zM1147 159h5v31h-5zM1153 174h1v21h-1zM1151 189h5v6h-5zM1157 184h1v44h-1zM1155 193h5v5h-5zM1161 196h1v58h-1zM1159 196h5v43h-5zM1165 152h1v2h-1zM1165 225h1v1h-1zM1163 154h5v71h-5zM1164 155v69h3v-69zM1169 144h1v22h-1zM1167 153h5v2h-5zM1173 157h1v91h-1zM1171 158h5v89h-5z"/>
<path fill="#000000" d="M1177 198h1v9h-1zM1177 248h1v5h-1zM1175 207h5v41h-5zM1176 208v39h3v-39z"/>
<path fill="#0000ff" d="M1181 184h1v64h-1zM1179 242h5v6h-5z"/>
<path fill="#000000" d="M1185 224h1v29h-1zM1183 246h5v2h-5zM1189 214h1v4h-1zM1187 218h5v29h-5zM1188 219v27h3v-27zM1193 180h1v5h-1zM1193 219h1v11h-1zM1191 185h5v34h-5zM1192 186v32h3v-32z"/>
<path fill="#000" d="M1213 322h1v1h-1zM1212 341h3v1h-1v1h-1v-1h-1z"/>
<path fill="#000" d="M1249 322h1v1h-1zM1248 341h3v1h-1v1h-1v-1h-1z"/>
<path fill="#000" d="M1205 416h1v1h-1zM1204 443h3v1h-1v1h-1v-1h-1z"/>
<path fill="#000" d="M1245 416h1v1h-1zM1244 443h3v1h-1v1h-1v-1h-1z"/>
<path fill="#000" d="M1273 600h1v1h-1zM1272 643h3v1h-1v1h-1v-1h-1z"/>
<line x1="1009.5" y1="186" x2="1009.5" y2="208" stroke="#000" stroke-width="3" stroke-linecap="round" shape-rendering="auto"/>
<line x1="833.5" y1="233" x2="833.5" y2="273" stroke="#000" stroke-width="3" stroke-linecap="round" shape-rendering="auto"/>
<line x1="961.5" y1="233" x2="961.5" y2="273" stroke="#000" stroke-width="3" stroke-linecap="round" shape-rendering="auto"/>
<line x1="1205.5" y1="93" x2="1205.5" y2="105" stroke="#000" stroke-width="3" stroke-linecap="round" shape-rendering="auto"/>
<line x1="1189.5" y1="272" x2="1189.5" y2="283" stroke="#000" stroke-width="3" stroke-linecap="round" shape-rendering="auto"/>
<line x1="1201.5" y1="272" x2="1201.5" y2="283" stroke="#000" stroke-width="3" stroke-linecap="round" shape-rendering="auto"/>
<line x1="1185.5" y1="324" x2="1185.5" y2="341" stroke="#000" stroke-width="3" stroke-linecap="round" shape-rendering="auto"/>
<line x1="1197.5" y1="324" x2="1197.5" y2="341" stroke="#000" stroke-width="3" stroke-linecap="round" shape-rendering="auto"/>
<line x1="1217.5" y1="418" x2="1217.5" y2="443" stroke="#000" stroke-width="3" stroke-linecap="round" shape-rendering="auto"/>
<line x1="1257.5" y1="418" x2="1257.5" y2="443" stroke="#000" stroke-width="3" stroke-linecap="round" shape-rendering="auto"/>
<line x1="1285.5" y1="602" x2="1285.5" y2="643" stroke="#000" stroke-width="3" stroke-linecap="round" shape-rendering="auto"/>
<rect x="1345" y="3" width="1" height="725" fill="#808000" opacity="0.8"/>
<polyline points="0.0,877.0 3.8,885.8 8.8,897.1 12.6,883.3 15.1,863.2 17.6,838.0 20.1,812.9 22.6,792.8 25.1,780.3 28.9,768.9 33.9,760.2 40.2,761.4 44.0,767.7 47.7,779.0 51.5,792.8 55.3,807.9 59.0,817.9 64.1,822.5 67.8,812.9 72.9,801.6 77.4,795.8 81.7,802.9 85.4,810.4 89.2,815.4 94.2,810.4 98.0,797.8 101.8,786.5 105.0,786.5 108.0,797.8 111.8,820.5 114.3,845.6 116.8,873.2 119.3,895.8 121.9,910.9 125.1,921.5 129.4,918.4 133.2,910.9 137.7,903.4 142.0,898.3 145.7,899.6 149.5,905.9 153.3,917.2 157.8,926.5 160.8,926.0 165.8,915.9 169.6,903.4 173.4,883.3 177.1,863.2 180.9,848.1 185.9,839.3 189.7,848.1 193.5,863.2 197.2,880.8 201.0,894.6 204.8,895.8 208.5,885.8 211.1,870.7 213.6,858.1 217.3,850.6 221.1,840.6 224.9,825.5 227.4,807.9 231.2,787.8 233.7,776.5 237.4,772.2 241.2,776.5 245.0,782.8 248.7,791.6 253.8,802.9 257.5,817.9 261.3,830.5 265.8,840.6 270.1,833.0 273.9,812.9 276.4,792.8 280.2,775.2 283.9,766.4 288.9,765.7 294.0,770.2 299.0,768.9 304.0,765.2 307.8,763.9 312.8,767.7 317.8,776.5 322.9,779.0 326.6,776.5 331.7,770.2 336.7,768.4 343.8,780.3 346.3,790.3 348.8,807.9 351.3,828.0 353.8,850.6 356.3,873.2 359.6,895.8 362.6,913.4 366.4,928.5 369.6,934.8 372.7,928.5 375.7,918.4 378.9,905.9 382.2,895.8 385.2,890.8 389.0,898.3 392.8,908.4 396.5,916.4 401.1,914.7 404.1,905.9 406.6,893.3 409.8,875.7 412.9,855.6 415.4,835.5 418.4,812.9 421.7,790.3 425.4,776.5 429.2,767.7 433.0,770.2 436.7,775.2 440.5,780.3 444.3,786.5 447.5,797.8 450.6,815.4 453.6,833.0 456.8,848.1 460.6,860.7 464.4,873.2 467.6,883.3 470.7,898.3 474.4,913.4 477.7,922.2 481.2,927.2 485.2,923.5 488.7,918.4 492.0,905.9 494.5,893.3 497.8,875.7 500.3,855.6 502.8,835.5 505.8,812.9 508.8,799.1 512.1,796.1 515.9,805.4 518.9,820.5 522.2,838.0 524.7,855.6 527.2,875.7 530.5,895.8 533.5,910.9 537.2,921.5 541.0,920.5 546.0,915.2 549.8,918.4 553.6,923.0 557.3,925.5 561.1,921.0 564.9,913.4 568.6,904.6 573.2,899.6 576.2,903.4 579.9,910.9 583.7,917.2 587.5,923.5 591.3,928.5 595.0,931.5 600.1,929.7 605.1,928.5 610.1,929.2 613.9,926.0 617.6,922.2 620.9,909.6 623.9,893.3 626.9,878.2 630.2,865.7 633.5,855.6 636.5,845.6 640.3,830.5 643.5,812.9 646.5,797.8 650.3,785.3 654.1,781.5 657.8,784.0 661.6,790.3 665.4,799.1 669.1,809.1 672.9,819.2 676.7,826.7 685.0,830.0 690.1,821.7 695.1,811.7 700.1,805.4 705.1,809.1 709.6,817.9 713.9,824.2 718.9,826.7 722.7,833.0 725.7,845.6 729.0,865.7 732.8,883.3 736.5,890.8 740.3,883.3 744.1,868.2 747.3,855.6 750.9,846.8 754.9,833.0 758.4,815.4 761.7,795.3 764.9,777.7 768.4,767.7 772.5,763.9 776.7,765.2 780.5,770.2 785.5,774.0 789.3,776.5 793.1,777.2 797.6,785.3 801.1,794.1 804.4,804.1 808.1,808.4 811.9,804.1 815.7,794.1 818.7,786.5 821.2,785.8 824.5,800.4 827.0,820.5 829.5,840.6 832.0,860.7 835.3,875.7 837.0,880.8 840.8,870.7 845.3,858.1 849.6,863.2 852.9,878.2 855.9,895.8 859.6,910.9 863.4,922.2 867.2,928.5 872.2,929.7 876.0,923.5 879.7,913.4 883.0,900.9 885.5,883.3 888.5,860.7 891.1,843.1 893.6,830.5 896.6,826.7 900.6,835.5 904.1,844.3 907.9,849.3 911.2,843.1 914.9,835.5 918.7,829.2 922.5,829.2 926.2,823.0 930.0,812.9 933.3,795.3 936.3,780.3 939.3,770.2 942.6,768.9 946.8,771.5 951.4,776.5 956.4,782.8 960.9,785.8 965.2,783.3 968.9,780.3 972.7,779.7 977.0,784.0 981.0,790.3 984.5,791.6 988.5,787.8 992.8,786.5 996.6,791.6 1000.4,802.9 1004.6,812.9 1008.6,821.7 1012.2,833.0 1015.4,845.6 1018.7,860.7 1022.5,870.7 1025.5,878.2 1028.8,880.8 1032.1,873.2 1035.1,860.7 1038.1,854.4 1041.4,855.6 1044.6,870.7 1047.6,890.8 1050.2,900.9 1053.2,893.3 1056.4,870.7 1058.9,845.6 1061.5,815.4 1064.0,785.3 1066.5,770.2 1069.0,763.9 1072.3,771.5 1075.3,779.0 1079.0,784.0 1082.8,781.5 1086.6,776.5 1089.8,772.7 1094.1,776.5 1097.9,781.5 1101.7,787.8 1106.7,795.3 1110.5,807.9 1114.2,817.9 1118.0,826.7 1121.8,833.0 1126.8,834.3 1130.6,833.0 1135.1,826.7 1138.1,817.9 1141.1,805.4 1144.4,790.3 1146.9,780.3 1149.4,776.5 1153.2,784.0 1155.7,800.4 1158.2,815.4 1161.2,826.7 1164.5,833.0 1168.2,828.0 1172.0,821.7 1174.5,819.7 1177.8,825.5 1180.3,840.6 1182.8,855.6 1185.8,870.7 1188.8,882.0 1190.9,883.3 1193.4,880.8" fill="none" stroke="#ff0000" stroke-width="1" stroke-linejoin="round" />
<polyline points="0.0,884.5 5.5,908.4 10.1,890.8 12.6,868.2 15.1,830.5 18.8,792.8 22.6,772.7 25.1,759.6 28.9,760.2 33.4,757.1 37.7,762.7 41.5,770.2 45.2,785.3 50.3,802.9 54.0,815.4 57.3,828.0 61.6,819.2 65.3,817.9 69.6,792.3 72.9,795.3 76.6,799.1 80.4,807.9 85.4,819.9 89.2,816.7 93.0,805.4 96.7,786.5 101.3,777.2 104.3,790.3 106.8,810.4 109.3,833.0 111.8,860.7 114.3,885.8 116.8,910.9 119.3,923.5 121.4,931.0 124.9,917.2 129.4,912.2 133.2,902.1 137.7,899.6 141.5,893.8 144.5,900.9 148.2,915.9 150.8,924.7 153.8,931.0 158.3,926.0 162.1,919.7 165.8,905.9 169.6,890.8 173.4,863.2 175.9,848.1 178.4,841.8 182.2,838.5 185.2,837.5 187.2,848.1 189.7,863.2 193.5,880.8 197.2,897.1 201.0,908.4 203.5,893.3 206.0,878.2 209.8,855.6 213.1,839.8 216.8,851.9 221.1,838.0 223.6,817.9 226.1,792.8 229.4,768.9 233.7,771.5 237.4,774.0 241.2,782.8 245.0,791.6 248.7,801.6 252.5,810.4 256.3,829.2 261.3,850.6 265.1,841.8 268.3,825.5 271.4,800.4 273.9,780.3 277.6,767.7 281.4,760.7 284.7,767.2 288.9,767.7 292.7,775.2 296.5,768.2 300.3,766.4 305.3,759.6 309.0,767.7 312.8,775.2 317.3,783.3 321.6,777.7 325.4,771.5 329.6,765.7 332.9,769.7 337.9,771.5 341.7,780.3 342.5,786.5 345.0,802.9 347.5,823.0 350.1,845.6 352.6,873.2 355.1,895.8 358.1,915.9 361.4,931.0 365.1,937.3 368.9,933.5 371.4,921.0 373.9,905.9 377.2,890.8 381.0,883.3 384.0,890.8 386.5,900.9 389.7,912.2 393.3,920.2 397.3,919.2 400.3,908.4 402.8,893.3 405.8,873.2 409.1,848.1 412.4,820.5 415.4,797.8 418.4,780.3 421.7,768.9 425.4,764.4 429.2,770.2 433.0,776.5 436.7,781.5 440.5,783.3 443.0,790.3 445.5,805.4 448.0,825.5 450.6,840.6 453.1,855.6 456.8,865.7 460.6,877.0 464.4,890.8 468.1,905.9 470.7,917.2 473.7,926.0 477.7,927.2 481.2,928.5 484.5,922.2 488.2,913.4 490.8,905.9 493.3,885.8 495.8,863.2 498.3,835.5 500.8,810.4 503.3,792.8 505.3,783.3 508.3,791.6 510.9,801.6 513.4,812.9 515.9,830.5 518.9,848.1 522.2,868.2 525.4,888.3 527.9,905.9 530.5,918.4 533.5,927.2 537.2,921.0 541.0,912.2 545.5,912.2 548.5,921.0 553.1,929.0 556.6,923.5 560.6,910.9 564.9,899.6 568.6,897.1 572.4,900.9 576.2,910.9 579.9,918.4 583.7,924.7 587.5,931.0 590.0,933.0 593.8,933.0 597.5,928.5 602.6,928.5 606.3,929.7 610.1,933.0 612.6,923.5 616.4,917.2 618.9,903.4 621.4,885.8 623.9,875.7 626.4,863.2 628.9,848.1 632.7,846.8 636.5,835.5 639.5,817.9 642.0,797.8 644.5,784.0 649.0,777.2 652.8,784.0 656.6,787.8 661.6,792.8 665.4,805.4 669.1,817.9 672.9,826.7 677.9,831.8 683.8,828.0 687.5,817.9 692.6,807.9 697.1,800.4 701.4,807.9 705.1,817.9 709.6,828.0 713.9,825.0 717.7,826.7 721.5,835.5 724.0,850.6 726.5,870.7 729.7,890.8 733.3,900.4 736.5,885.8 740.3,865.7 744.8,850.1 749.1,848.6 752.4,835.5 755.4,812.9 758.4,790.3 760.9,772.7 764.2,763.9 766.7,762.2 770.5,763.9 775.0,766.4 778.0,770.2 781.3,776.5 785.0,774.0 789.3,779.0 793.1,779.0 796.1,792.8 799.3,802.9 802.6,809.1 805.6,815.4 809.4,805.4 812.7,786.5 816.9,779.7 820.2,790.3 822.7,810.4 825.2,835.5 828.2,863.2 830.8,883.3 833.8,893.3 837.0,873.2 839.5,855.6 841.6,845.6 844.6,855.6 847.1,873.2 850.4,890.8 853.4,908.4 857.1,921.0 861.4,927.2 865.9,934.0 869.7,927.2 873.0,924.7 876.0,915.9 879.7,900.9 882.3,885.8 884.8,865.7 887.3,843.1 889.8,826.7 893.6,819.7 896.6,828.0 899.1,840.6 901.6,851.9 905.4,855.6 908.6,840.6 912.4,831.8 917.4,821.7 921.7,836.8 925.0,823.0 928.2,807.9 931.3,785.3 933.3,770.2 936.3,768.2 941.3,771.5 945.1,772.7 948.8,777.7 953.9,781.5 957.6,787.3 961.4,787.3 965.9,780.3 969.4,774.7 973.5,781.5 977.7,792.8 981.5,795.8 985.3,785.3 989.0,776.5 992.8,792.8 997.1,805.4 1001.6,815.4 1006.6,821.7 1010.4,833.0 1014.2,853.1 1017.9,868.2 1022.5,884.5 1025.5,888.3 1028.8,873.2 1032.6,853.1 1037.1,839.8 1040.1,860.7 1043.1,883.3 1046.4,910.9 1049.4,924.7 1051.4,893.3 1053.9,860.7 1056.4,828.0 1058.9,792.8 1061.5,759.6 1065.2,759.6 1067.7,767.7 1071.5,780.3 1074.8,787.8 1077.3,792.3 1080.3,780.3 1084.1,771.5 1086.6,769.4 1089.8,770.2 1092.9,782.8 1096.6,786.5 1100.4,792.8 1105.4,799.1 1109.2,812.9 1113.0,826.7 1116.7,830.5 1121.3,836.8 1125.0,834.3 1129.3,829.2 1134.3,825.5 1137.6,802.9 1140.6,785.3 1143.1,771.5 1145.6,760.7 1148.1,772.7 1150.7,787.8 1153.7,805.4 1156.9,823.0 1161.2,843.1 1164.5,830.5 1167.0,819.2 1169.5,811.7 1172.8,817.9 1175.8,830.5 1178.8,853.1 1181.3,880.8 1184.6,880.8 1187.1,885.8 1189.6,892.1 1191.6,880.8 1193.4,872.5" fill="none" stroke="#0000ff" stroke-width="1" stroke-linejoin="round" />
<rect x="29" y="737" width="60" height="3" fill="#0000ff"/>
<rect x="93" y="737" width="24" height="3" fill="#0000ff"/>
<rect x="329" y="737" width="32" height="3" fill="#0000ff"/>
<rect x="769" y="737" width="60" height="3" fill="#0000ff"/>
<rect x="993" y="737" width="20" height="3" fill="#0000ff"/>
<rect x="1065" y="737" width="60" height="3" fill="#0000ff"/>
<rect x="1141" y="737" width="48" height="3" fill="#0000ff"/>
<rect x="141" y="955" width="4" height="3" fill="#0000ff"/>
<rect x="149" y="955" width="32" height="3" fill="#0000ff"/>
<rect x="561" y="955" width="80" height="3" fill="#0000ff"/>
<g font-size="14" text-anchor="middle" shape-rendering="auto" transform="scale(0.9,1)"><text x="368.9" y="224.7" fill="#0000ff">5</text><text x="382.2" y="250.8" fill="#0000ff">2</text><text x="337.8" y="267.0" fill="#0000ff">3</text><text x="338.1" y="279.7" fill="#0000ff">v</text><text x="316.9" y="332.5" fill="#0000ff">iii</text><text x="378.6" y="321.2" fill="#0000ff">1</text><text x="471.7" y="333.3" fill="#ff0000">A</text><text x="485.6" y="328.3" fill="#ff0000">C</text><text x="494.7" y="332.9" fill="#ff0000">a</text><text x="341.9" y="368.8" fill="#0000ff">4</text><text x="334.1" y="385.8" fill="#0000ff">iv</text><text x="422.0" y="367.5" fill="#0000ff">4</text><text x="476.1" y="415.0" fill="#ff0000">B</text><text x="493.9" y="465.3" fill="#0000ff">1</text><text x="409.1" y="481.2" fill="#0000ff">3</text><text x="253.9" y="486.7" fill="#0000ff">1</text><text x="440.2" y="541.2" fill="#0000ff">5</text><text x="280.0" y="616.7" fill="#0000ff">2</text><text x="294.2" y="587.8" fill="#0000ff">ii</text><text x="285.3" y="554.0" fill="#0000ff">i</text><text x="555.8" y="351.2" fill="#0000ff">2</text><text x="556.7" y="364.2" fill="#ff0000">c</text><text x="570.0" y="412.2" fill="#0000ff">ii</text><text x="565.8" y="463.7" fill="#0000ff">i</text><text x="600.6" y="473.0" fill="#0000ff">iv</text><text x="635.8" y="447.5" fill="#0000ff">4</text><text x="725.0" y="474.2" fill="#0000ff">1</text><text x="538.6" y="530.8" fill="#ff0000">b</text><text x="588.0" y="525.5" fill="#0000ff">iii</text><text x="613.9" y="560.4" fill="#0000ff">v</text><text x="613.6" y="572.5" fill="#0000ff">3</text><text x="744.1" y="604.0" fill="#ff0000">a</text><text x="866.7" y="308.3" fill="#0000ff">3</text><text x="906.9" y="322.5" fill="#0000ff">5</text><text x="867.0" y="334.2" fill="#0000ff">v</text><text x="859.1" y="359.2" fill="#0000ff">iii</text><text x="867.6" y="420.3" fill="#0000ff">iv</text><text x="933.7" y="371.3" fill="#ff0000">B</text><text x="987.0" y="396.2" fill="#0000ff">1</text><text x="884.2" y="457.0" fill="#0000ff">4</text><text x="920.8" y="462.5" fill="#ff0000">A</text><text x="796.7" y="483.7" fill="#ff0000">b</text><text x="961.4" y="552.5" fill="#ff0000">C</text><text x="832.2" y="564.2" fill="#0000ff">ii</text><text x="814.7" y="601.2" fill="#ff0000">c</text><text x="813.9" y="614.5" fill="#0000ff">2</text><text x="1102.4" y="283.3" fill="#0000ff">3</text><text x="1102.4" y="296.0" fill="#0000ff">v</text><text x="1049.8" y="344.7" fill="#0000ff">iii</text><text x="1098.3" y="370.5" fill="#0000ff">iv</text><text x="1152.0" y="313.0" fill="#ff0000">b</text><text x="1134.4" y="382.0" fill="#ff0000">a</text><text x="1161.3" y="392.9" fill="#ff0000">c</text><text x="1159.8" y="406.7" fill="#0000ff">4</text><text x="1178.9" y="347.0" fill="#0000ff">ii</text><text x="1240.9" y="312.0" fill="#0000ff">iv</text><text x="1014.7" y="423.8" fill="#0000ff">i</text><text x="1174.2" y="287.0" fill="#0000ff">i</text><text x="1023.3" y="483.8" fill="#0000ff">ii</text><text x="1004.2" y="497.2" fill="#0000ff">2</text><text x="1205.8" y="201.3" fill="#0000ff">iii</text><text x="1275.9" y="113.3" fill="#0000ff">5</text><text x="1275.9" y="126.2" fill="#0000ff">v</text><text x="1349.4" y="89.5" fill="#000000">3450</text><text x="1345.3" y="299.5" fill="#000000">3280</text><text x="1371.9" y="354.2" fill="#000000">3230</text><text x="1394.1" y="457.0" fill="#000000">3140</text><text x="1284.4" y="19.5" fill="#0000ff">-5-</text></g>
<g shape-rendering="auto"><circle cx="333.2" cy="203.0" r="7.4" fill="#ff0000" stroke="#000" stroke-width="1"/><circle cx="437.3" cy="307.2" r="7.4" fill="#ff0000" stroke="#000" stroke-width="1"/><circle cx="177.0" cy="517.0" r="7.4" fill="#ff0000" stroke="#000" stroke-width="1"/><circle cx="125.2" cy="646.2" r="7.4" fill="#ff0000" stroke="#000" stroke-width="1"/><circle cx="157.2" cy="701.2" r="7.4" fill="#ff0000" stroke="#000" stroke-width="1"/><circle cx="201.2" cy="695.0" r="7.4" fill="#ff0000" stroke="#000" stroke-width="1"/><circle cx="140.5" cy="453.0" r="7.4" fill="#ff0000" stroke="#000" stroke-width="1"/><circle cx="397.0" cy="552.0" r="7.4" fill="#ff0000" stroke="#000" stroke-width="1"/><circle cx="625.0" cy="564.2" r="7.4" fill="#0000ff" stroke="#000" stroke-width="1"/><circle cx="637.2" cy="660.0" r="7.4" fill="#0000ff" stroke="#000" stroke-width="1"/><circle cx="817.0" cy="301.2" r="7.4" fill="#0000ff" stroke="#000" stroke-width="1"/><circle cx="865.0" cy="563.0" r="7.4" fill="#0000ff" stroke="#000" stroke-width="1"/><circle cx="1148.8" cy="92.2" r="7.4" fill="#0000ff" stroke="#000" stroke-width="1"/></g>
<g font-size="13" text-anchor="middle" shape-rendering="auto" transform="scale(0.9,1)"><text x="370.2" y="207.6" fill="#fff">C</text><text x="485.9" y="311.8" fill="#fff">B</text><text x="196.7" y="521.6" fill="#fff">A</text><text x="139.1" y="650.8" fill="#fff">A</text><text x="174.7" y="705.8" fill="#fff">C</text><text x="223.6" y="699.6" fill="#fff">B</text><text x="156.1" y="457.6" fill="#fff">B</text><text x="441.1" y="556.6" fill="#fff">A</text><text x="694.4" y="568.8" fill="#fff">1</text><text x="708.0" y="664.6" fill="#fff">2</text><text x="907.8" y="305.8" fill="#fff">3</text><text x="961.1" y="567.6" fill="#fff">4</text><text x="1276.4" y="96.8" fill="#fff">5</text></g>
<clipPath id="cp"><rect x="0" y="0" width="1351" height="730"/></clipPath>
<rect x="1233" y="128" width="29" height="1" fill="#000000"/><rect x="1233" y="234" width="29" height="1" fill="#008000"/><rect x="1233" y="259" width="29" height="1" fill="#800000"/><rect x="1233" y="300" width="29" height="1" fill="#000000"/>
<g clip-path="url(#cp)"><g font-size="14" shape-rendering="auto" transform="scale(0.9,1)"><text x="1403.3" y="125.0" fill="#000000">0.000 (3418.430</text><text x="1403.3" y="231.3" fill="#008000">0.618 (3325.637</text><text x="1403.3" y="255.8" fill="#800000">0.764 (3303.715</text><text x="1403.3" y="297.5" fill="#000000">1.000 (3268.280</text></g></g>
<rect x="1352" y="0" width="41" height="962" fill="#f0f0f0"/>
<rect x="1351" y="0" width="1" height="962" fill="#000"/>
<path fill="#000" d="M1353 716h1v1h-1zM1353 710h1v1h-1zM1353 704h1v1h-1zM1353 698h1v1h-1zM1353 693h3v1h-3zM1353 687h1v1h-1zM1353 681h1v1h-1zM1353 676h1v1h-1zM1353 670h1v1h-1zM1353 664h6v1h-6zM1353 658h1v1h-1zM1353 653h1v1h-1zM1353 647h1v1h-1zM1353 641h1v1h-1zM1353 635h3v1h-3zM1353 630h1v1h-1zM1353 624h1v1h-1zM1353 618h1v1h-1zM1353 613h1v1h-1zM1353 607h6v1h-6zM1353 601h1v1h-1zM1353 595h1v1h-1zM1353 590h1v1h-1zM1353 584h1v1h-1zM1353 578h3v1h-3zM1353 572h1v1h-1zM1353 567h1v1h-1zM1353 561h1v1h-1zM1353 555h1v1h-1zM1353 550h6v1h-6zM1353 544h1v1h-1zM1353 538h1v1h-1zM1353 532h1v1h-1zM1353 527h1v1h-1zM1353 521h3v1h-3zM1353 515h1v1h-1zM1353 509h1v1h-1zM1353 504h1v1h-1zM1353 498h1v1h-1zM1353 492h6v1h-6zM1353 487h1v1h-1zM1353 481h1v1h-1zM1353 475h1v1h-1zM1353 469h1v1h-1zM1353 464h3v1h-3zM1353 458h1v1h-1zM1353 452h1v1h-1zM1353 446h1v1h-1zM1353 441h1v1h-1zM1353 435h6v1h-6zM1353 429h1v1h-1zM1353 424h1v1h-1zM1353 418h1v1h-1zM1353 412h1v1h-1zM1353 406h3v1h-3zM1353 401h1v1h-1zM1353 395h1v1h-1zM1353 389h1v1h-1zM1353 383h1v1h-1zM1353 378h6v1h-6zM1353 372h1v1h-1zM1353 366h1v1h-1zM1353 361h1v1h-1zM1353 355h1v1h-1zM1353 349h3v1h-3zM1353 343h1v1h-1zM1353 338h1v1h-1zM1353 332h1v1h-1zM1353 326h1v1h-1zM1353 320h6v1h-6zM1353 315h1v1h-1zM1353 309h1v1h-1zM1353 303h1v1h-1zM1353 298h1v1h-1zM1353 292h3v1h-3zM1353 286h1v1h-1zM1353 280h1v1h-1zM1353 275h1v1h-1zM1353 269h1v1h-1zM1353 263h6v1h-6zM1353 257h1v1h-1zM1353 252h1v1h-1zM1353 246h1v1h-1zM1353 240h1v1h-1zM1353 235h3v1h-3zM1353 229h1v1h-1zM1353 223h1v1h-1zM1353 217h1v1h-1zM1353 212h1v1h-1zM1353 206h6v1h-6zM1353 200h1v1h-1zM1353 194h1v1h-1zM1353 189h1v1h-1zM1353 183h1v1h-1zM1353 177h3v1h-3zM1353 172h1v1h-1zM1353 166h1v1h-1zM1353 160h1v1h-1zM1353 154h1v1h-1zM1353 149h6v1h-6zM1353 143h1v1h-1zM1353 137h1v1h-1zM1353 131h1v1h-1zM1353 126h1v1h-1zM1353 120h3v1h-3zM1353 114h1v1h-1zM1353 109h1v1h-1zM1353 103h1v1h-1zM1353 97h1v1h-1zM1353 91h6v1h-6zM1353 86h1v1h-1zM1353 80h1v1h-1zM1353 74h1v1h-1zM1353 68h1v1h-1zM1353 63h3v1h-3zM1353 57h1v1h-1zM1353 51h1v1h-1zM1353 46h1v1h-1zM1353 40h1v1h-1zM1353 34h6v1h-6zM1353 28h1v1h-1zM1353 23h1v1h-1zM1353 17h1v1h-1zM1353 11h1v1h-1zM1353 5h3v1h-3zM1353 950h1v1h-1zM1353 941h6v1h-6zM1353 932h1v1h-1zM1353 922h1v1h-1zM1353 913h1v1h-1zM1353 903h1v1h-1zM1353 894h3v1h-3zM1353 885h1v1h-1zM1353 875h1v1h-1zM1353 866h1v1h-1zM1353 856h1v1h-1zM1353 847h6v1h-6zM1353 838h1v1h-1zM1353 828h1v1h-1zM1353 819h1v1h-1zM1353 809h1v1h-1zM1353 800h3v1h-3zM1353 791h1v1h-1zM1353 781h1v1h-1zM1353 772h1v1h-1zM1353 762h1v1h-1zM1353 753h6v1h-6z"/>
<rect x="1352" y="720" width="41" height="9" fill="#ffffe1"/><rect x="1352" y="720" width="41" height="1" fill="#000"/>
<rect x="1352" y="736" width="41" height="8" fill="#ffffe1"/><rect x="1352" y="743" width="41" height="1" fill="#000"/>
<clipPath id="c1"><rect x="1352" y="712" width="41" height="8"/></clipPath><clipPath id="c2"><rect x="1352" y="721" width="41" height="8"/></clipPath><clipPath id="c3"><rect x="1352" y="736" width="41" height="7"/></clipPath>
<g clip-path="url(#c1)"><text transform="scale(0.9,1)" font-size="14" x="1511.1" y="726">2900.00</text></g><g clip-path="url(#c2)"><text transform="scale(0.9,1)" font-size="14" x="1511.1" y="734">2894.64</text></g><g clip-path="url(#c3)"><text transform="scale(0.9,1)" font-size="14" x="1517.8" y="741">106.34</text></g>
<g font-size="14" fill="#000" shape-rendering="auto" transform="scale(0.9,1)"><text x="1511.1" y="669">2950.00</text><text x="1511.1" y="612">3000.00</text><text x="1511.1" y="555">3050.00</text><text x="1511.1" y="497">3100.00</text><text x="1511.1" y="440">3150.00</text><text x="1511.1" y="383">3200.00</text><text x="1511.1" y="325">3250.00</text><text x="1511.1" y="268">3300.00</text><text x="1511.1" y="211">3350.00</text><text x="1511.1" y="154">3400.00</text><text x="1511.1" y="96">3450.00</text><text x="1511.1" y="39">3500.00</text><text x="1511.1" y="946">0.00</text><text x="1511.1" y="852">50.00</text><text x="1511.1" y="758">100.00</text></g>
<rect x="0" y="0" width="1393" height="1" fill="#a0a0a0"/><rect x="0" y="1" width="1393" height="1" fill="#696969"/><rect x="0" y="2" width="1393" height="1" fill="#d0d0d0"/>
<rect x="0" y="729" width="1393" height="7" fill="#fff"/><rect x="0" y="731" width="1393" height="1" fill="#f0f0f0"/><rect x="0" y="732" width="1393" height="1" fill="#d8d8d8"/><rect x="0" y="733" width="1393" height="1" fill="#a8a8a8"/><rect x="0" y="734" width="1393" height="1" fill="#707070"/>
<path fill="#000" d="M0 960h440v2h-1v-1h-136v1h-1v-1h-142v1h-1v-1h-58v1h-1v-1h-54v1h-1v-1h-45zM525 960h827v1h-826v1h-1z"/>
</svg>
</body></html>
